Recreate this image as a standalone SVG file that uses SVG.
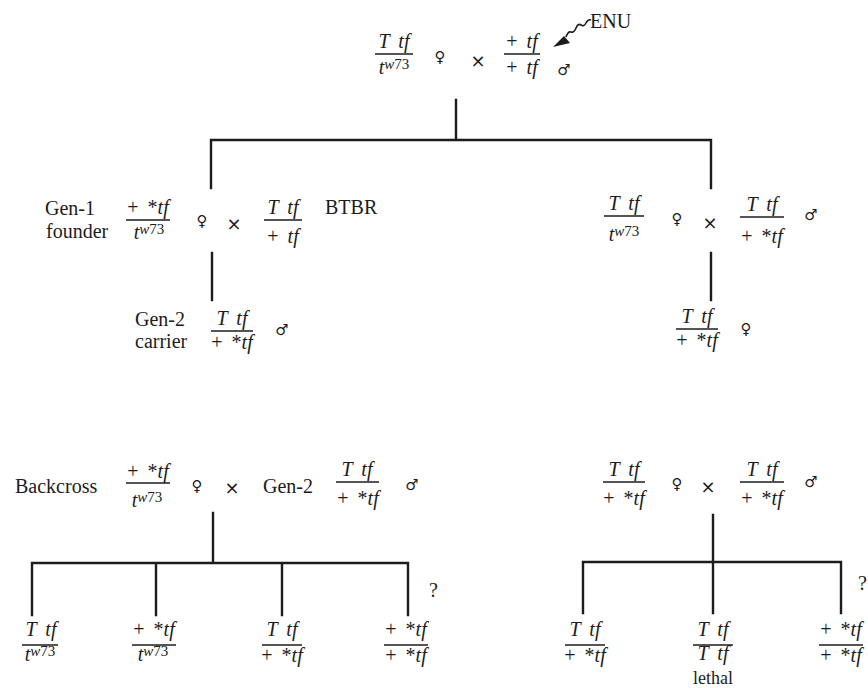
<svg xmlns="http://www.w3.org/2000/svg" width="868" height="688" viewBox="0 0 868 688">
<style>
.t{font-family:"Liberation Serif","Times New Roman",serif;font-size:20px;fill:#1c1c1c}
.f{font-family:"Liberation Serif","Times New Roman",serif;font-size:20px;fill:#1c1c1c;text-anchor:middle;word-spacing:4px}
.i{font-style:italic}
.sup{font-size:15px}
.sym{font-family:"DejaVu Sans",sans-serif;font-size:15px;fill:#1c1c1c;text-anchor:middle;dominant-baseline:central}
.x{font-family:"DejaVu Sans",sans-serif;font-size:18px;fill:#1c1c1c;text-anchor:middle;dominant-baseline:central}
.ln{stroke:#1c1c1c;stroke-width:2.4;fill:none;stroke-linecap:square}
.fl{stroke:#1c1c1c;stroke-width:1.6}
</style>
<rect width="868" height="688" fill="#ffffff"/>

<g id="connectors">
  <path class="ln" d="M456,100 V140 M211,140 H711 M211,140 V188 M711,140 V188"/>
  <path class="ln" d="M212,253 V300 M711,253 V300"/>
  <path class="ln" d="M213,513 V563 M32,563 H408 M32,563 V615 M156,563 V615 M282,563 V615 M408,563 V615"/>
  <path class="ln" d="M713,515 V562 M583,562 H841 M583,562 V613 M713,562 V613 M841,562 V613"/>
  <path d="M591,20 q-3,-1 -5,3 q-2,4 -5,2 q-3,-2 -5,3 q-2,5 -5,4 q-3,-1 -5,5" stroke="#1c1c1c" stroke-width="1.6" fill="none"/>
  <polygon points="553,47 564,36 570,43" fill="#1c1c1c"/>
</g>

<g id="parents-top">
  <text class="f i" x="394" y="48">T tf</text>
  <line class="fl" x1="375" y1="54" x2="413" y2="54"/>
  <text class="f" x="394" y="74"><tspan class="i">t</tspan><tspan class="sup i" dy="-5">w</tspan><tspan class="sup">73</tspan></text>
  <text class="sym" x="440" y="57">♀</text>
  <text class="x" x="478" y="60">×</text>
  <text class="f" x="522" y="48">+ <tspan class="i">tf</tspan></text>
  <line class="fl" x1="504" y1="54" x2="540" y2="54"/>
  <text class="f" x="522" y="74">+ <tspan class="i">tf</tspan></text>
  <text class="sym" x="564" y="70">♂</text>
  <text class="t" x="590" y="28">ENU</text>
</g>

<g id="gen1-left">
  <text class="t" x="45" y="215">Gen-1</text>
  <text class="t" x="46" y="238">founder</text>
  <text class="f" x="148" y="214">+ *<tspan class="i">tf</tspan></text>
  <line class="fl" x1="126" y1="220" x2="170" y2="220"/>
  <text class="f" x="149" y="239"><tspan class="i">t</tspan><tspan class="sup i" dy="-5">w</tspan><tspan class="sup">73</tspan></text>
  <text class="sym" x="202" y="221">♀</text>
  <text class="x" x="234" y="223">×</text>
  <text class="f i" x="283" y="214">T tf</text>
  <line class="fl" x1="264" y1="220" x2="302" y2="220"/>
  <text class="f" x="283" y="243">+ <tspan class="i">tf</tspan></text>
  <text class="t" x="325" y="214">BTBR</text>
</g>

<g id="gen1-right">
  <text class="f i" x="624" y="210">T tf</text>
  <line class="fl" x1="604" y1="216" x2="644" y2="216"/>
  <text class="f" x="624" y="241"><tspan class="i">t</tspan><tspan class="sup i" dy="-5">w</tspan><tspan class="sup">73</tspan></text>
  <text class="sym" x="677" y="219">♀</text>
  <text class="x" x="710" y="222">×</text>
  <text class="f i" x="762" y="211">T tf</text>
  <line class="fl" x1="740" y1="217" x2="784" y2="217"/>
  <text class="f" x="762" y="243">+ *<tspan class="i">tf</tspan></text>
  <text class="sym" x="811" y="215">♂</text>
</g>

<g id="gen2-left">
  <text class="t" x="135" y="326">Gen-2</text>
  <text class="t" x="135" y="348">carrier</text>
  <text class="f i" x="232" y="325">T tf</text>
  <line class="fl" x1="211" y1="331" x2="253" y2="331"/>
  <text class="f" x="232" y="349">+ *<tspan class="i">tf</tspan></text>
  <text class="sym" x="282" y="330">♂</text>
</g>

<g id="gen2-right">
  <text class="f i" x="697" y="323">T tf</text>
  <line class="fl" x1="676" y1="329" x2="718" y2="329"/>
  <text class="f" x="697" y="347">+ *<tspan class="i">tf</tspan></text>
  <text class="sym" x="746" y="329">♀</text>
</g>

<g id="backcross-left">
  <text class="t" x="15" y="493">Backcross</text>
  <text class="f" x="148" y="478">+ *<tspan class="i">tf</tspan></text>
  <line class="fl" x1="126" y1="483" x2="170" y2="483"/>
  <text class="f" x="147" y="507"><tspan class="i">t</tspan><tspan class="sup i" dy="-5">w</tspan><tspan class="sup">73</tspan></text>
  <text class="sym" x="197" y="486">♀</text>
  <text class="x" x="232" y="487">×</text>
  <text class="t" x="263" y="493">Gen-2</text>
  <text class="f i" x="357" y="476">T tf</text>
  <line class="fl" x1="336" y1="482" x2="379" y2="482"/>
  <text class="f" x="358" y="505">+ *<tspan class="i">tf</tspan></text>
  <text class="sym" x="412" y="485">♂</text>
</g>

<g id="intercross-right">
  <text class="f i" x="624" y="476">T tf</text>
  <line class="fl" x1="603" y1="482" x2="645" y2="482"/>
  <text class="f" x="624" y="505">+ *<tspan class="i">tf</tspan></text>
  <text class="sym" x="677" y="484">♀</text>
  <text class="x" x="708" y="486">×</text>
  <text class="f i" x="762" y="476">T tf</text>
  <line class="fl" x1="740" y1="482" x2="784" y2="482"/>
  <text class="f" x="762" y="505">+ *<tspan class="i">tf</tspan></text>
  <text class="sym" x="811" y="482">♂</text>
</g>

<g id="offspring-left">
  <text class="f i" x="41" y="636">T tf</text>
  <line class="fl" x1="22" y1="645" x2="58" y2="645"/>
  <text class="f" x="40" y="661"><tspan class="i">t</tspan><tspan class="sup i" dy="-5">w</tspan><tspan class="sup">73</tspan></text>
  <text class="f" x="154" y="636">+ *<tspan class="i">tf</tspan></text>
  <line class="fl" x1="132" y1="645" x2="176" y2="645"/>
  <text class="f" x="153" y="661"><tspan class="i">t</tspan><tspan class="sup i" dy="-5">w</tspan><tspan class="sup">73</tspan></text>
  <text class="f i" x="282" y="636">T tf</text>
  <line class="fl" x1="262" y1="645" x2="302" y2="645"/>
  <text class="f" x="282" y="662">+ *<tspan class="i">tf</tspan></text>
  <text class="f" x="406" y="636">+ *<tspan class="i">tf</tspan></text>
  <line class="fl" x1="384" y1="645" x2="428" y2="645"/>
  <text class="f" x="406" y="662">+ *<tspan class="i">tf</tspan></text>
  <text class="t" x="429" y="597">?</text>
</g>

<g id="offspring-right">
  <text class="f i" x="585" y="636">T tf</text>
  <line class="fl" x1="565" y1="645" x2="605" y2="645"/>
  <text class="f" x="585" y="662">+ *<tspan class="i">tf</tspan></text>
  <text class="f i" x="713" y="636">T tf</text>
  <line class="fl" x1="693" y1="645" x2="733" y2="645"/>
  <text class="f i" x="713" y="660">T tf</text>
  <text class="f" x="713" y="684" style="font-size:18px">lethal</text>
  <text class="f" x="841" y="636">+ *<tspan class="i">tf</tspan></text>
  <line class="fl" x1="819" y1="645" x2="863" y2="645"/>
  <text class="f" x="841" y="662">+ *<tspan class="i">tf</tspan></text>
  <text class="t" x="858" y="590">?</text>
</g>
</svg>
